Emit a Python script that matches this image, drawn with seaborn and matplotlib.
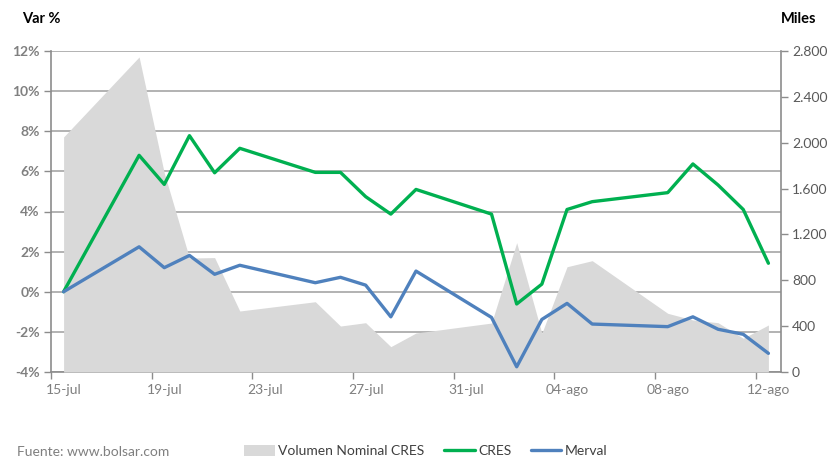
import matplotlib
matplotlib.use("Agg")
import matplotlib.pyplot as plt
import matplotlib.dates as mdates
from matplotlib.lines import Line2D
from matplotlib.patches import Patch
import seaborn as sns
import pandas as pd

# ---- data ----
dates = ["2014-07-15", "2014-07-18", "2014-07-19", "2014-07-20", "2014-07-21", "2014-07-22",
         "2014-07-25", "2014-07-26", "2014-07-27", "2014-07-28", "2014-07-29",
         "2014-08-01", "2014-08-02", "2014-08-03", "2014-08-04", "2014-08-05",
         "2014-08-08", "2014-08-09", "2014-08-10", "2014-08-11", "2014-08-12"]
cres = [0.0, 6.8, 5.35, 7.78, 5.93, 7.15, 5.95, 5.95, 4.74, 3.87, 5.1,
        3.87, -0.61, 0.38, 4.1, 4.49, 4.94, 6.37, 5.32, 4.1, 1.42]
merval = [0.0, 2.24, 1.2, 1.81, 0.87, 1.32, 0.45, 0.72, 0.33, -1.25, 1.03,
          -1.28, -3.74, -1.38, -0.58, -1.61, -1.74, -1.25, -1.87, -2.12, -3.07]
volumen = [2050, 2748, 1736, 994, 998, 532, 613, 401, 430, 221, 340,
           427, 1128, 338, 918, 971, 512, 454, 430, 294, 410]

xtick_dates = ["2014-07-15", "2014-07-19", "2014-07-23", "2014-07-27",
               "2014-07-31", "2014-08-04", "2014-08-08", "2014-08-12"]
xtick_labels = ["15-jul", "19-jul", "23-jul", "27-jul", "31-jul", "04-ago", "08-ago", "12-ago"]
left_ticks = [-4, -2, 0, 2, 4, 6, 8, 10, 12]
left_labels = ["-4%", "-2%", "0%", "2%", "4%", "6%", "8%", "10%", "12%"]
right_ticks = [0, 400, 800, 1200, 1600, 2000, 2400, 2800]
right_labels = ["0", "400", "800", "1.200", "1.600", "2.000", "2.400", "2.800"]

df = pd.DataFrame({"fecha": pd.to_datetime(dates), "CRES": cres,
                   "Merval": merval, "Volumen": volumen})

sns.set_theme(style="white")
plt.rcParams['font.family'] = ['Lato', 'DejaVu Sans']

GREEN = "#00B050"
BLUE = "#4F81BD"
AREA = "#D9D9D9"
GRID = "#A6A6A6"
AXC = "#8C8C8C"

W, H = 834, 458
fig = plt.figure(figsize=(W / 100, H / 100), dpi=100)
ax = fig.add_axes([51 / W, 1 - 372 / H, 730 / W, 321 / H])
ax2 = ax.twinx()   # volume area (right axis)
ax3 = ax.twinx()   # lines on top

# area
ax2.fill_between(df["fecha"], df["Volumen"], 0, color=AREA, linewidth=0)
ax2.set_ylim(0, 2800)

# lines
sns.lineplot(data=df, x="fecha", y="CRES", ax=ax3, color=GREEN, linewidth=2.4, legend=False)
sns.lineplot(data=df, x="fecha", y="Merval", ax=ax3, color=BLUE, linewidth=2.4, legend=False)
ax3.set_ylim(-4, 12)
ax3.axis("off")

# x axis
centers = mdates.date2num(pd.to_datetime(xtick_dates))
x0 = mdates.date2num(pd.Timestamp(dates[0])) - 0.5
x1 = mdates.date2num(pd.Timestamp(dates[-1])) + 0.5
ax.set_xlim(x0, x1)
ax.set_xticks([c - 0.5 for c in centers])
ax.set_xticklabels([])
ax.set_xticks(centers, minor=True)
ax.set_xticklabels(xtick_labels, minor=True)
ax.tick_params(axis="x", which="major", direction="out", length=5, width=1, color=AXC, bottom=True)
ax.tick_params(axis="x", which="minor", length=0, pad=9, labelsize=10, labelcolor="#7F7F7F")

# left axis
ax.set_ylim(-4, 12)
ax.set_yticks(left_ticks)
ax.set_yticklabels(left_labels, fontweight="bold")
ax.tick_params(axis="y", direction="out", length=5, width=1, color=AXC, left=True,
               labelsize=10, labelcolor="#808080", pad=3)
ax.yaxis.grid(True, color=GRID, linewidth=1.2)
ax.xaxis.grid(False)
ax.set_xlabel("")
ax.set_ylabel("")

# right axis
ax2.set_yticks(right_ticks)
ax2.set_yticklabels(right_labels)
ax2.tick_params(axis="y", direction="out", length=5, width=1, color=AXC, right=True,
                labelsize=10, labelcolor="#595959", pad=3)
ax2.set_ylabel("")

for a in (ax, ax2):
    for s in a.spines.values():
        s.set_visible(False)
ax.spines["left"].set_visible(True)
ax.spines["bottom"].set_visible(True)
ax2.spines["right"].set_visible(True)
for s in (ax.spines["left"], ax.spines["bottom"], ax2.spines["right"]):
    s.set_color(AXC)
    s.set_linewidth(1.2)

# titles
fig.text(22 / W, 1 - 19 / H, "Var %", fontsize=10.5, fontweight="bold", color="black", va="center")
fig.text(781 / W, 1 - 19 / H, "Miles", fontsize=10.5, fontweight="bold", color="black", va="center")
fig.text(17 / W, 1 - 452 / H, "Fuente: www.bolsar.com", fontsize=10, color="#7F7F7F", va="center")

handles = [Patch(facecolor=AREA, edgecolor="none"),
           Line2D([], [], color=GREEN, linewidth=2.4),
           Line2D([], [], color=BLUE, linewidth=2.4)]
leg = fig.legend(handles, ["Volumen Nominal CRES", "CRES", "Merval"], ncol=3,
                 loc="center", bbox_to_anchor=(426 / W, 1 - 451 / H), frameon=False,
                 fontsize=10, handlelength=2.2, handleheight=0.9, handletextpad=0.25,
                 columnspacing=1.4, borderpad=0, borderaxespad=0)
for t in leg.get_texts():
    t.set_color("#404040")

fig.savefig("out.png", dpi=100)
